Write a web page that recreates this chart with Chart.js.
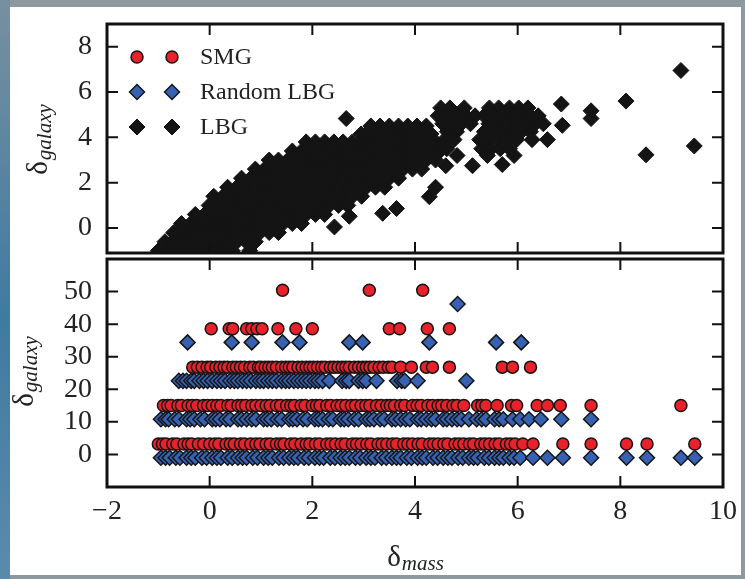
<!DOCTYPE html>
<html>
<head>
<meta charset="utf-8">
<script src="https://cdn.jsdelivr.net/npm/chart.js@4.4.1/dist/chart.umd.min.js"></script>
<style>
  html, body { margin: 0; padding: 0; }
  body { width: 745px; height: 579px; background: #8d989f; position: relative; overflow: hidden; }
  #edge-left { position: absolute; left: 0; top: 0; width: 10px; height: 579px; background: linear-gradient(#7790a0, #3f7aa2 55%, #5b8bab); }
  #sheet { position: absolute; left: 10px; top: 7px; width: 731px; height: 568px; background: #fff; }
  canvas { position: absolute; left: 0; }
  #top-chart { top: 0; }
  #bottom-chart { top: 250px; }
</style>
</head>
<body>
<div id="edge-left"></div>
<div id="sheet"></div>
<canvas id="top-chart" width="745" height="262"></canvas>
<canvas id="bottom-chart" width="745" height="329"></canvas>
<script>
// shared x axis (delta_mass)
const xTicks = [-2, 0, 2, 4, 6, 8, 10];
const topYTicks = [0, 2, 4, 6, 8];
const bottomYTicks = [0, 10, 20, 30, 40, 50];
const seriesNames = ["SMG", "Random LBG", "LBG"];

// LBG, top panel: rows of the dense cloud (delta_galaxy level + delta_mass values)
const lbgRowY = [-1.0, -0.6, -0.2, 0.2, 0.6, 1.0, 1.4, 1.8, 2.2, 2.6, 3.0, 3.4, 3.8, 4.15, 4.5];
const lbgRowX = [
    [-1.0, -0.82, -0.64, -0.46, -0.28, -0.1, 0.08, 0.26, 0.44, 0.78],
    [-0.87, -0.73, -0.55, -0.37, -0.19, -0.01, 0.17, 0.35, 0.53, 0.71, 0.89],
    [-0.7, -0.6, -0.46, -0.28, -0.1, 0.08, 0.26, 0.44, 0.62, 0.8, 0.98, 1.16, 1.34],
    [-0.55, -0.37, -0.19, -0.01, 0.17, 0.35, 0.53, 0.71, 0.89, 1.07, 1.25, 1.43, 1.61, 1.79],
    [-0.28, -0.1, 0.08, 0.26, 0.44, 0.62, 0.8, 0.98, 1.16, 1.34, 1.52, 1.7, 1.88, 2.06, 2.24],
    [-0.01, 0.17, 0.35, 0.53, 0.71, 0.89, 1.07, 1.25, 1.43, 1.61, 1.79, 1.97, 2.15, 2.33, 2.51, 2.69],
    [0.08, 0.26, 0.44, 0.62, 0.8, 0.98, 1.16, 1.34, 1.52, 1.7, 1.88, 2.06, 2.24, 2.42, 2.6, 2.78, 2.96],
    [0.35, 0.53, 0.71, 0.89, 1.07, 1.25, 1.43, 1.61, 1.79, 1.97, 2.15, 2.33, 2.51, 2.69, 2.87, 3.05, 3.23, 3.41],
    [0.62, 0.8, 0.98, 1.16, 1.34, 1.52, 1.7, 1.88, 2.06, 2.24, 2.42, 2.6, 2.78, 2.96, 3.14, 3.32, 3.5, 3.68],
    [0.89, 1.07, 1.25, 1.43, 1.61, 1.79, 1.97, 2.15, 2.33, 2.51, 2.69, 2.87, 3.05, 3.23, 3.41, 3.59, 3.77, 3.95, 4.13],
    [1.16, 1.34, 1.52, 1.7, 1.88, 2.06, 2.24, 2.42, 2.6, 2.78, 2.96, 3.14, 3.32, 3.5, 3.68, 3.86, 4.04, 4.22, 4.4],
    [1.61, 1.79, 1.97, 2.15, 2.33, 2.51, 2.69, 2.87, 3.05, 3.23, 3.41, 3.59, 3.77, 3.95, 4.13, 4.31, 4.49],
    [1.88, 2.06, 2.24, 2.42, 2.6, 2.78, 2.96, 3.14, 3.32, 3.5, 3.68, 3.86, 4.04, 4.22, 4.4, 4.58],
    [2.95, 3.05, 3.23, 3.41, 3.59, 3.77, 3.95, 4.13, 4.31],
    [3.14, 3.32, 3.5, 3.68, 3.86, 4.04, 4.22],
];
// right-hand clump of the LBG cloud
const lbgClumpY = [5.3, 4.95, 4.6, 4.25, 3.9, 3.5, 3.2];
const lbgClumpX = [
    [4.5, 4.68, 4.96, 5.45, 5.63, 5.84, 6.02, 6.2],
    [4.45, 4.63, 4.81, 4.99, 5.17, 5.35, 5.53, 5.71, 5.89, 6.07, 6.25, 6.4],
    [4.54, 4.72, 4.9, 5.08, 5.44, 5.62, 5.8, 5.98, 6.16, 6.34, 6.5],
    [4.63, 4.81, 5.35, 5.53, 5.71, 5.89, 6.07, 6.25],
    [4.58, 4.76, 5.26, 5.44, 5.62, 5.8, 5.98, 6.28, 6.58],
    [4.62, 5.3, 5.48, 5.66, 5.84],
    [4.82, 5.41, 5.93],
];
// single LBG diamonds away from the cloud
const lbgLoose = [
    [2.66, 4.83], [2.43, 0.05], [2.72, 0.52], [3.37, 0.65], [3.64, 0.86], [4.28, 1.38],
    [4.4, 1.8], [4.6, 2.75], [5.12, 2.75], [5.7, 2.8],
    [6.87, 4.53], [6.85, 5.47], [7.43, 5.17], [7.43, 4.83], [8.11, 5.6], [9.18, 6.95],
    [8.5, 3.23], [9.44, 3.62],
];

// bottom panel: delta_galaxy only takes a few values
const smgLevels = [3.2, 15.0, 26.8, 38.6, 50.4];
const smgX = [
    [-1.0, -0.92, -0.85, -0.72, -0.64, -0.5, -0.42, -0.35, -0.22, -0.12, 0.0, 0.1, 0.18, 0.32, 0.4, 0.48, 0.6, 0.68, 0.8, 0.9, 0.98, 1.1, 1.18, 1.3, 1.38, 1.45, 1.58, 1.66, 1.78, 1.88, 1.95, 2.06, 2.14, 2.28, 2.36, 2.45, 2.56, 2.64, 2.78, 2.86, 2.95, 3.06, 3.14, 3.28, 3.36, 3.45, 3.56, 3.64, 3.78, 3.86, 3.95, 4.06, 4.14, 4.28, 4.36, 4.45, 4.56, 4.64, 4.78, 4.86, 4.95, 5.06, 5.14, 5.28, 5.36, 5.45, 5.56, 5.64, 5.78, 5.86, 5.95, 6.1, 6.3, 6.88, 7.43, 8.12, 8.52, 9.45],
    [-0.9, -0.82, -0.75, -0.62, -0.55, -0.42, -0.34, -0.25, -0.12, -0.04, 0.05, 0.14, 0.22, 0.35, 0.42, 0.55, 0.62, 0.7, 0.82, 0.9, 1.0, 1.1, 1.18, 1.3, 1.38, 1.5, 1.58, 1.65, 1.78, 1.86, 2.0, 2.08, 2.15, 2.28, 2.36, 2.48, 2.56, 2.65, 2.76, 2.84, 2.95, 3.04, 3.12, 3.25, 3.34, 3.45, 3.52, 3.6, 3.72, 3.8, 3.95, 4.04, 4.12, 4.25, 4.34, 4.45, 4.52, 4.62, 4.74, 4.82, 4.95, 5.22, 5.3, 5.38, 5.6, 5.88, 5.98, 6.38, 6.58, 6.83, 7.43, 9.18],
    [-0.33, -0.24, -0.15, -0.05, 0.02, 0.12, 0.2, 0.28, 0.35, 0.45, 0.52, 0.6, 0.68, 0.78, 0.85, 0.95, 1.0, 1.08, 1.15, 1.22, 1.3, 1.4, 1.48, 1.55, 1.62, 1.72, 1.8, 1.88, 1.95, 2.02, 2.1, 2.18, 2.25, 2.35, 2.42, 2.5, 2.58, 2.65, 2.72, 2.82, 2.9, 2.98, 3.05, 3.12, 3.2, 3.3, 3.38, 3.48, 3.55, 3.72, 3.93, 4.22, 4.34, 4.67, 5.7, 5.9, 6.25],
    [0.03, 0.38, 0.45, 0.72, 0.82, 0.92, 1.02, 1.33, 1.68, 2.0, 3.5, 3.7, 4.24, 4.67],
    [1.42, 3.11, 4.15],
];
const randLevels = [-1.0, 10.8, 22.6, 34.4, 46.2];
const randX = [
    [-0.95, -0.86, -0.78, -0.66, -0.58, -0.45, -0.36, -0.28, -0.15, -0.06, 0.05, 0.14, 0.22, 0.35, 0.44, 0.55, 0.64, 0.72, 0.84, 0.93, 1.05, 1.14, 1.22, 1.35, 1.44, 1.55, 1.64, 1.72, 1.84, 1.93, 2.05, 2.14, 2.22, 2.35, 2.44, 2.55, 2.64, 2.72, 2.84, 2.93, 3.05, 3.14, 3.22, 3.35, 3.44, 3.55, 3.64, 3.72, 3.84, 3.93, 4.05, 4.14, 4.22, 4.35, 4.44, 4.55, 4.64, 4.72, 4.84, 4.93, 5.05, 5.14, 5.22, 5.35, 5.44, 5.55, 5.64, 5.72, 5.84, 5.93, 6.05, 6.3, 6.58, 6.88, 7.43, 8.12, 8.52, 9.18, 9.45],
    [-0.95, -0.86, -0.8, -0.68, -0.6, -0.45, -0.38, -0.3, -0.18, -0.1, 0.05, 0.12, 0.2, 0.32, 0.4, 0.55, 0.62, 0.72, 0.82, 0.9, 1.05, 1.12, 1.2, 1.32, 1.4, 1.55, 1.62, 1.7, 1.82, 1.9, 2.05, 2.12, 2.2, 2.32, 2.4, 2.55, 2.62, 2.7, 2.82, 2.9, 3.05, 3.12, 3.2, 3.32, 3.4, 3.55, 3.62, 3.72, 3.82, 3.9, 4.05, 4.12, 4.22, 4.32, 4.4, 4.55, 4.62, 4.72, 4.82, 4.9, 5.05, 5.2, 5.3, 5.38, 5.55, 5.64, 5.72, 5.9, 6.05, 6.22, 6.45, 6.85, 7.43],
    [-0.6, -0.52, -0.45, -0.36, -0.3, -0.2, -0.12, -0.04, 0.05, 0.14, 0.22, 0.3, 0.4, 0.48, 0.55, 0.64, 0.72, 0.8, 0.9, 0.98, 1.05, 1.14, 1.22, 1.3, 1.4, 1.48, 1.55, 1.64, 1.72, 1.8, 1.88, 1.96, 2.05, 2.12, 2.2, 2.33, 2.58, 2.66, 2.72, 2.9, 2.98, 3.05, 3.25, 3.65, 3.74, 3.8, 4.05, 5.0],
    [-0.43, 0.43, 0.82, 1.42, 1.75, 2.72, 2.98, 4.28, 5.58, 6.07],
    [4.83],
];

const SERIF = "'Liberation Serif', 'Times New Roman', serif";
const TEXT = "#222";

// turn "level + list of x" rows into chart points
function rowsToPoints(levels, xs) {
    let pts = [];
    levels.forEach((y, i) => {
        xs[i].forEach((x) => pts.push({ x: x, y: y }));
    });
    return pts;
}

let lbgPoints = rowsToPoints(lbgRowY, lbgRowX)
    .concat(rowsToPoints(lbgClumpY, lbgClumpX))
    .concat(lbgLoose.map((p) => ({ x: p[0], y: p[1] })));

const markerStyles = {
    "SMG": { pointStyle: "circle", radius: 6, fill: "#e8212b", edge: "#151515", borderWidth: 1.5 },
    "Random LBG": { pointStyle: "rectRot", radius: 7.5, fill: "#3761b3", edge: "#151515", borderWidth: 1.5 },
    "LBG": { pointStyle: "rectRot", radius: 8, fill: "#141414", edge: "#141414", borderWidth: 1 },
};

function minusSign(v) {
    return v < 0 ? "\u2212" + Math.abs(v) : String(v);
}

// delta with an italic subscript, centred on (x, y)
function drawDeltaTitle(ctx, sub, x, y, vertical) {
    ctx.save();
    ctx.translate(x, y);
    if (vertical) ctx.rotate(-Math.PI / 2);
    ctx.fillStyle = TEXT;
    ctx.textBaseline = "alphabetic";
    ctx.font = "29px " + SERIF;
    const wD = ctx.measureText("\u03b4").width;
    ctx.font = "italic 21px " + SERIF;
    const wS = ctx.measureText(sub).width;
    const x0 = -(wD + wS) / 2;
    ctx.font = "29px " + SERIF;
    ctx.fillText("\u03b4", x0, 0);
    ctx.font = "italic 21px " + SERIF;
    ctx.fillText(sub, x0 + wD + 1, 4);
    ctx.restore();
}

// thick box around the panel with inward tick marks on all four sides
const panelFrame = {
    id: "panelFrame",
    afterDatasetsDraw(chart, args, opts) {
        const { ctx, chartArea: a, scales } = chart;
        ctx.save();
        ctx.strokeStyle = "#111";
        ctx.lineWidth = 2;
        ctx.beginPath();
        xTicks.forEach((v) => {
            if (v <= scales.x.min || v >= scales.x.max) return;
            const px = scales.x.getPixelForValue(v);
            ctx.moveTo(px, a.top);
            ctx.lineTo(px, a.top + 11);
            ctx.moveTo(px, a.bottom);
            ctx.lineTo(px, a.bottom - 11);
        });
        opts.yTicks.forEach((v) => {
            const py = scales.y.getPixelForValue(v);
            ctx.moveTo(a.left, py);
            ctx.lineTo(a.left + 11, py);
            ctx.moveTo(a.right, py);
            ctx.lineTo(a.right - 11, py);
        });
        ctx.stroke();
        ctx.lineWidth = 3;
        ctx.strokeRect(a.left, a.top, a.right - a.left, a.bottom - a.top);
        if (opts.yTitle) drawDeltaTitle(ctx, "galaxy", opts.yTitle[0], opts.yTitle[1], true);
        if (opts.xTitle) drawDeltaTitle(ctx, "mass", opts.xTitle[0], opts.xTitle[1], false);
        ctx.restore();
    },
};

// legend in the upper panel, two markers per entry
const pairLegend = {
    id: "pairLegend",
    afterDraw(chart, args, opts) {
        if (!opts.show) return;
        const ctx = chart.ctx;
        ctx.save();
        seriesNames.forEach((name, i) => {
            const st = markerStyles[name];
            const y = 57 + i * 35;
            ctx.fillStyle = st.fill;
            ctx.strokeStyle = st.edge;
            ctx.lineWidth = st.borderWidth;
            [137, 172].forEach((x) => {
                Chart.helpers.drawPoint(ctx, { pointStyle: st.pointStyle, radius: st.radius, rotation: 0, borderWidth: st.borderWidth }, x, y);
            });
            ctx.fillStyle = TEXT;
            ctx.font = "24px " + SERIF;
            ctx.textBaseline = "middle";
            ctx.fillText(name, 200, y + 1);
        });
        ctx.restore();
    },
};

function yScale(min, max, ticks) {
    return {
        min: min,
        max: max,
        afterBuildTicks: (s) => { s.ticks = ticks.map((v) => ({ value: v })); },
        afterFit: (s) => {
            s.width = 107;
            // labels never sit on the panel edge, so no extra room is needed
            s.paddingTop = 0;
            s.paddingBottom = 0;
        },
        grid: { display: false, drawTicks: false },
        border: { display: false },
        ticks: { padding: 15, color: TEXT, font: { family: SERIF, size: 28 } },
    };
}

function dataset(name, points, extra) {
    const st = markerStyles[name];
    return Object.assign({
        label: name,
        data: points,
        pointStyle: st.pointStyle,
        pointRadius: st.radius,
        pointBackgroundColor: st.fill,
        pointBorderColor: st.edge,
        pointBorderWidth: st.borderWidth,
    }, extra || {});
}

// upper panel
new Chart(document.getElementById("top-chart"), {
    type: "scatter",
    data: { datasets: [dataset("LBG", lbgPoints, { clip: 0 })] },
    options: {
        responsive: false,
        animation: false,
        events: [],
        layout: { padding: { left: 0, right: 22, top: 24, bottom: 5 } },
        scales: {
            x: { type: "linear", display: false, min: -2, max: 10 },
            y: yScale(-1.1, 9, topYTicks),
        },
        plugins: {
            legend: { display: false },
            tooltip: { enabled: false },
            panelFrame: { yTicks: topYTicks, yTitle: [47, 140] },
            pairLegend: { show: true },
        },
    },
    plugins: [panelFrame, pairLegend],
});

// lower panel
new Chart(document.getElementById("bottom-chart"), {
    type: "scatter",
    data: {
        datasets: [
            dataset("Random LBG", rowsToPoints(randLevels, randX), { order: 0 }),
            dataset("SMG", rowsToPoints(smgLevels, smgX), { order: 1 }),
        ],
    },
    options: {
        responsive: false,
        animation: false,
        events: [],
        layout: { padding: { left: 0, right: 22, top: 7, bottom: 0 } },
        scales: {
            x: {
                type: "linear",
                min: -2,
                max: 10,
                afterBuildTicks: (s) => { s.ticks = xTicks.map((v) => ({ value: v })); },
                afterFit: (s) => { s.height = 92; },
                grid: { display: false, drawTicks: false },
                border: { display: false },
                ticks: { padding: 8, color: TEXT, maxRotation: 0, autoSkip: false, callback: minusSign, font: { family: SERIF, size: 28 } },
            },
            y: yScale(-10, 60, bottomYTicks),
        },
        plugins: {
            legend: { display: false },
            tooltip: { enabled: false },
            panelFrame: { yTicks: bottomYTicks, yTitle: [33, 122], xTitle: [415, 316] },
            pairLegend: { show: false },
        },
    },
    plugins: [panelFrame, pairLegend],
});
</script>
</body>
</html>
